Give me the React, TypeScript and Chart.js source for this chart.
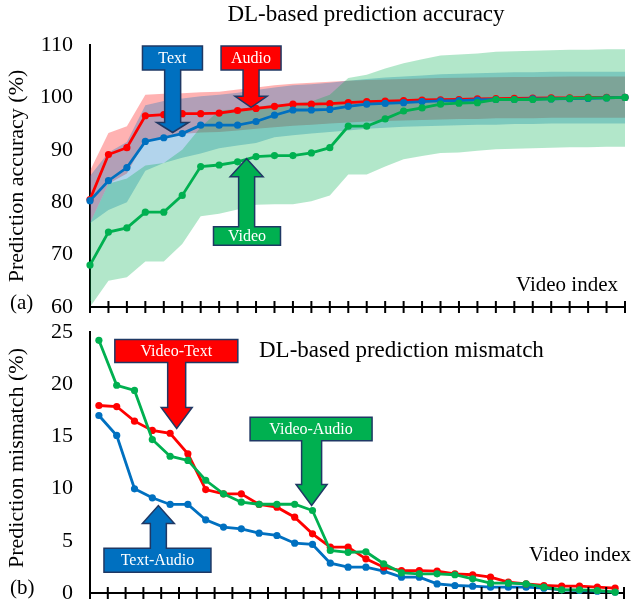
import React, { useEffect, useRef } from 'react';
import { Chart, registerables } from 'chart.js';

Chart.register(...registerables);

// ---------- data ----------
const videoIndex = ['1','2','3','4','5','6','7','8','9','10','11','12','13','14','15','16','17','18','19','20','21','22','23','24','25','26','27','28','29','30'];

// (a) DL-based prediction accuracy (%)
const accVideo = [68.0,74.3,75.1,78.1,78.1,81.3,86.8,87.1,87.7,88.7,88.9,88.9,89.4,90.4,94.5,94.5,95.9,97.4,98.0,98.7,98.9,99.0,99.6,99.6,99.6,99.7,99.8,99.9,99.9,100];
const accText = [80.3,84.1,86.6,91.6,92.3,93.1,94.7,94.7,94.7,95.4,96.6,97.6,97.6,97.7,98.3,98.7,98.85,99.0,99.2,99.35,99.4,99.5,99.6,99.6,99.7,99.7,99.75,99.8,99.9,100];
const accAudio = [80.5,89.1,90.4,96.5,96.7,96.9,96.9,97.0,97.5,97.9,98.3,98.7,98.7,98.8,99.0,99.2,99.3,99.4,99.5,99.55,99.6,99.7,99.75,99.8,99.85,99.9,99.9,100,100,100];

const accVideoHi = [76,83.5,84.5,87,87.5,90,94.3,97.5,97.8,98.2,98.6,98.8,99.2,100.5,103.7,104.3,105.5,106.5,107.3,108,108.2,108.4,108.7,108.8,108.9,109,109.1,109.1,109.2,109.2];
const accVideoLo = [60,65,65.7,68.7,68.7,72,77.3,77.8,78.6,79.5,79.6,79.6,80.2,81.3,85.3,85.3,86.8,88.2,88.8,89.4,89.5,89.8,90.1,90.2,90.3,90.4,90.5,90.5,90.6,90.6];
const accTextHi = [85,89.5,91.5,98.5,99.3,99.8,100.2,100.5,100.9,101.4,101.9,102.3,102.5,102.8,103.2,103.5,103.8,104,104.2,104.4,104.5,104.6,104.7,104.8,104.8,104.9,104.9,104.9,104.9,104.9];
const accTextLo = [76,78.5,80,86,87.5,88.5,89.3,90.3,90.8,91.3,92.4,92.8,93.1,93.4,93.7,94,94.2,94.4,94.5,94.6,94.7,94.8,94.8,94.9,94.9,95,95,95,95,95];
const accAudioHi = [86,93.2,94.5,100.5,100.7,100.8,101,101.1,101.5,101.9,102.3,102.6,102.8,103,103.2,103.3,103.4,103.5,103.6,103.7,103.75,103.8,103.85,103.9,103.9,103.95,104,104,104,104];
const accAudioLo = [76,83.5,85.5,91.8,92.4,93.0,93.3,93.4,93.7,94.0,94.3,94.6,94.8,95.0,95.2,95.4,95.5,95.6,95.7,95.8,95.9,95.9,96,96,96,96.1,96.1,96.1,96.1,96.1];

// (b) DL-based prediction mismatch (%)
const misVideoAudio = [24.2,19.9,19.4,14.7,13.1,12.7,10.8,9.5,8.7,8.5,8.5,8.5,7.9,4.07,3.9,3.95,2.8,1.93,1.84,1.84,1.75,1.36,0.94,0.94,0.87,0.56,0.3,0.3,0.24,0.08];
const misVideoText = [17.96,17.86,16.46,15.57,15.3,13.33,9.91,9.5,9.5,8.48,8.22,7.26,5.67,4.39,4.39,3.27,2.47,2.15,2.15,2.1,1.84,1.75,1.52,1.04,0.87,0.72,0.65,0.65,0.56,0.46];
const misTextAudio = [17.0,15.09,9.98,9.12,8.48,8.48,7.01,6.31,6.15,5.73,5.51,4.77,4.65,2.86,2.47,2.47,2.1,1.52,1.52,0.87,0.72,0.65,0.56,0.56,0.56,0.46,0.3,0.24,0.17,0.08];

const accTicks = [60, 70, 80, 90, 100, 110];
const misTicks = [0, 5, 10, 15, 20, 25];

// ---------- styles ----------
const RED = '#ff0000';
const BLUE = '#0070c0';
const GREEN = '#00b050';
const NAVY = '#1f3864';
const FONT = "'Liberation Serif', 'Times New Roman', serif";

type Callout = {
  label: string; color: string; dir: 'down' | 'up';
  boxX: number; boxTop: number; boxW: number; boxH: number;
  tipX: number; tipY: number; stemW: number; headW: number; headL: number;
};

const accCallouts: Callout[] = [
  { label: 'Text', color: BLUE, dir: 'down', boxX: 4.47, boxTop: 109.8, boxW: 60, boxH: 24, tipX: 4.48, tipY: 93.3, stemW: 16, headW: 32, headL: 10 },
  { label: 'Audio', color: RED, dir: 'down', boxX: 8.73, boxTop: 109.8, boxW: 60, boxH: 24, tipX: 8.73, tipY: 98.1, stemW: 16, headW: 32, headL: 11 },
  { label: 'Video', color: GREEN, dir: 'up', boxX: 8.51, boxTop: 75.3, boxW: 67, boxH: 18.5, tipX: 8.49, tipY: 88.3, stemW: 16, headW: 33, headL: 18 },
];
const misCallouts: Callout[] = [
  { label: 'Video-Text', color: RED, dir: 'down', boxX: 4.35, boxTop: 24.28, boxW: 123, boxH: 23, tipX: 4.37, tipY: 15.76, stemW: 18, headW: 31, headL: 21 },
  { label: 'Video-Audio', color: GREEN, dir: 'down', boxX: 11.92, boxTop: 16.84, boxW: 122, boxH: 23.5, tipX: 11.95, tipY: 8.38, stemW: 20, headW: 31, headL: 21 },
  { label: 'Text-Audio', color: BLUE, dir: 'up', boxX: 3.29, boxTop: 4.29, boxW: 107, boxH: 24, tipX: 3.34, tipY: 8.38, stemW: 16, headW: 32, headL: 18 },
];

type FreeText = { text: string; x: number; y: number; align: CanvasTextAlign; size: number; rotate?: boolean };

const accTexts: FreeText[] = [
  { text: 'DL-based prediction accuracy', x: 366, y: 15, align: 'center', size: 23 },
  { text: 'Video index', x: 618, y: 285, align: 'right', size: 21 },
  { text: '(a)', x: 10, y: 303, align: 'left', size: 21 },
  { text: 'Prediction accuracy (%)', x: 17, y: 176, align: 'center', size: 22, rotate: true },
];
const misTexts: FreeText[] = [
  { text: 'DL-based prediction mismatch', x: 259, y: 35, align: 'left', size: 23 },
  { text: 'Video index', x: 529, y: 239, align: 'left', size: 21 },
  { text: '(b)', x: 10, y: 272, align: 'left', size: 21 },
  { text: 'Prediction mismatch (%)', x: 17, y: 142, align: 'center', size: 22, rotate: true },
];

function drawCallout(ctx: CanvasRenderingContext2D, chart: any, a: Callout) {
  const xs = chart.scales.x, ys = chart.scales.y;
  const bx = xs.getPixelForValue(a.boxX);
  const T = ys.getPixelForValue(a.boxTop);
  const B = T + a.boxH;
  const L = bx - a.boxW / 2, R = bx + a.boxW / 2;
  const tx = xs.getPixelForValue(a.tipX);
  const ty = ys.getPixelForValue(a.tipY);
  const s = a.stemW / 2, h = a.headW / 2;
  ctx.save();
  ctx.beginPath();
  if (a.dir === 'down') {
    const hy = ty - a.headL;
    ctx.moveTo(L, T); ctx.lineTo(R, T); ctx.lineTo(R, B);
    ctx.lineTo(tx + s, B); ctx.lineTo(tx + s, hy); ctx.lineTo(tx + h, hy);
    ctx.lineTo(tx, ty);
    ctx.lineTo(tx - h, hy); ctx.lineTo(tx - s, hy); ctx.lineTo(tx - s, B);
    ctx.lineTo(L, B); ctx.closePath();
  } else {
    const hy = ty + a.headL;
    ctx.moveTo(L, B); ctx.lineTo(R, B); ctx.lineTo(R, T);
    ctx.lineTo(tx + s, T); ctx.lineTo(tx + s, hy); ctx.lineTo(tx + h, hy);
    ctx.lineTo(tx, ty);
    ctx.lineTo(tx - h, hy); ctx.lineTo(tx - s, hy); ctx.lineTo(tx - s, T);
    ctx.lineTo(L, T); ctx.closePath();
  }
  ctx.fillStyle = a.color;
  ctx.fill();
  ctx.lineWidth = 1.5;
  ctx.strokeStyle = NAVY;
  ctx.lineJoin = 'miter';
  ctx.stroke();
  ctx.fillStyle = '#ffffff';
  ctx.font = `16px ${FONT}`;
  ctx.textAlign = 'center';
  ctx.textBaseline = 'middle';
  ctx.fillText(a.label, bx, (T + B) / 2 + 1);
  ctx.restore();
}

function makeDecor(callouts: Callout[], texts: FreeText[], offsetTicks: boolean) {
  return {
    id: 'decor',
    afterDatasetsDraw(chart: any) {
      const ctx: CanvasRenderingContext2D = chart.ctx;
      const xs = chart.scales.x;
      const y0 = chart.chartArea.bottom;
      ctx.save();
      ctx.strokeStyle = '#000';
      ctx.lineWidth = 2;
      const n = xs.ticks.length;
      const count = offsetTicks ? n + 1 : n;
      for (let i = 0; i < count; i++) {
        const px = offsetTicks ? xs.getPixelForValue(i - 0.5) : xs.getPixelForValue(i);
        ctx.beginPath();
        ctx.moveTo(px, y0 - 6);
        ctx.lineTo(px, y0 + 6);
        ctx.stroke();
      }
      ctx.restore();
      callouts.forEach((c) => drawCallout(ctx, chart, c));
      texts.forEach((t) => {
        ctx.save();
        ctx.fillStyle = '#000';
        ctx.font = `${t.size}px ${FONT}`;
        ctx.textAlign = t.align;
        ctx.textBaseline = 'middle';
        if (t.rotate) {
          ctx.translate(t.x, t.y);
          ctx.rotate(-Math.PI / 2);
          ctx.fillText(t.text, 0, 0);
        } else {
          ctx.fillText(t.text, t.x, t.y);
        }
        ctx.restore();
      });
    },
  };
}

function lineDs(data: number[], color: string) {
  return {
    data, borderColor: color, backgroundColor: color, borderWidth: 2.8,
    pointRadius: 3.6, pointBorderWidth: 0, pointBackgroundColor: color,
    fill: false, tension: 0, clip: false as any,
  };
}
function bandHi(data: number[]) {
  return { data, borderWidth: 0, pointRadius: 0, fill: false, borderColor: 'rgba(0,0,0,0)', tension: 0 };
}
function bandLo(data: number[], color: string) {
  return { data, borderWidth: 0, pointRadius: 0, fill: '-1', backgroundColor: color, borderColor: 'rgba(0,0,0,0)', tension: 0 };
}

function yScale(min: number, max: number, ticks: number[]) {
  return {
    min, max,
    afterBuildTicks: (s: any) => { s.ticks = ticks.map((v) => ({ value: v })); },
    ticks: { color: '#000', font: { family: FONT, size: 22, lineHeight: 1 }, padding: 0 },
    grid: { display: true, drawOnChartArea: false, drawTicks: true, tickLength: 17, color: 'rgba(0,0,0,0)' },
    border: { display: true, color: '#000', width: 2 },
    afterFit: (s: any) => { s.width = 90; },
  };
}

export default function App() {
  const topRef = useRef<HTMLCanvasElement | null>(null);
  const botRef = useRef<HTMLCanvasElement | null>(null);

  useEffect(() => {
    const top = new Chart(topRef.current as HTMLCanvasElement, {
      type: 'line',
      data: {
        labels: videoIndex,
        datasets: [
          lineDs(accVideo, GREEN), lineDs(accText, BLUE), lineDs(accAudio, RED),
          bandHi(accVideoHi), bandLo(accVideoLo, 'rgba(0,176,80,0.3)'),
          bandHi(accTextHi), bandLo(accTextLo, 'rgba(0,112,192,0.3)'),
          bandHi(accAudioHi), bandLo(accAudioLo, 'rgba(255,0,0,0.3)'),
        ] as any,
      },
      options: {
        animation: false, responsive: false, events: [],
        layout: { padding: { left: 0, right: 6, top: 45, bottom: 14 } },
        plugins: {
          legend: { display: false }, tooltip: { enabled: false },
          filler: { drawTime: 'beforeDatasetsDraw', propagate: false },
        } as any,
        scales: {
          x: {
            type: 'category', offset: false,
            grid: { display: false, drawTicks: false }, ticks: { display: false },
            border: { display: true, color: '#000', width: 2 },
            afterFit: (s: any) => { s.height = 0; },
          },
          y: yScale(60, 110, accTicks),
        } as any,
      },
      plugins: [makeDecor(accCallouts, accTexts, false)],
    });

    const bot = new Chart(botRef.current as HTMLCanvasElement, {
      type: 'line',
      data: {
        labels: videoIndex,
        datasets: [
          lineDs(misVideoAudio, GREEN), lineDs(misVideoText, RED), lineDs(misTextAudio, BLUE),
        ] as any,
      },
      options: {
        animation: false, responsive: false, events: [],
        layout: { padding: { left: 0, right: 7, top: 16, bottom: 14 } },
        plugins: { legend: { display: false }, tooltip: { enabled: false } },
        scales: {
          x: {
            type: 'category', offset: true,
            grid: { display: false, offset: true, drawTicks: false }, ticks: { display: false },
            border: { display: true, color: '#000', width: 2 },
            afterFit: (s: any) => { s.height = 0; },
          },
          y: yScale(0, 25, misTicks),
        } as any,
      },
      plugins: [makeDecor(misCallouts, misTexts, true)],
    });

    return () => { top.destroy(); bot.destroy(); };
  }, []);

  return (
    <div style={{ position: 'fixed', left: 0, top: 0, width: 631, height: 607, background: '#fff' }}>
      <canvas ref={topRef} width={631} height={321} style={{ position: 'absolute', left: 0, top: 0, width: 631, height: 321 }} />
      <canvas ref={botRef} width={631} height={291} style={{ position: 'absolute', left: 0, top: 316, width: 631, height: 291 }} />
    </div>
  );
}
